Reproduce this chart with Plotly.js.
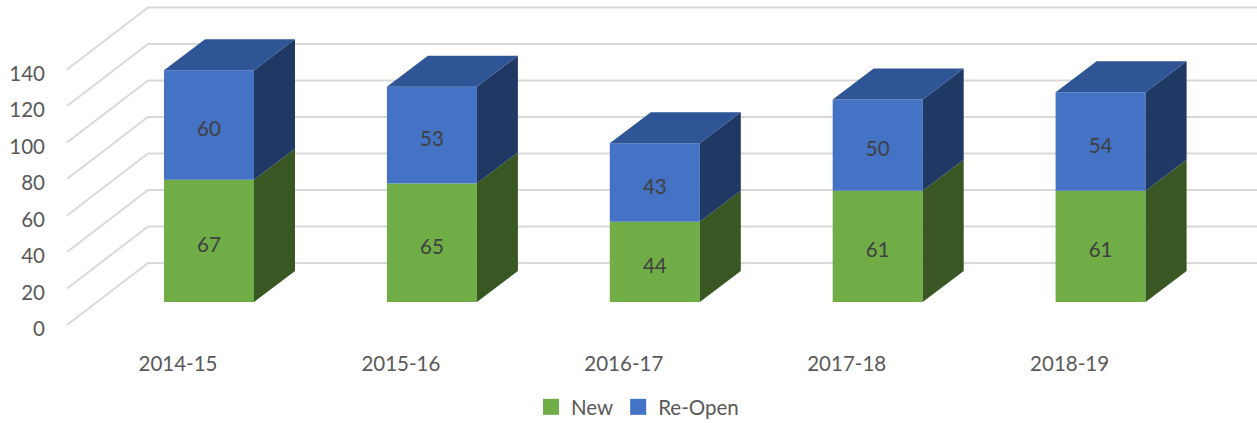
<!DOCTYPE html>
<html>
<head>
<meta charset="utf-8">
<script src="https://cdn.plot.ly/plotly-3.0.1.min.js"></script>
<style>html,body{margin:0;padding:0;background:#fff;overflow:hidden}</style>
</head>
<body>
<div id="chart" style="width:1257px;height:423px"></div>
<script>
const categories = ['2014-15','2015-16','2016-17','2017-18','2018-19'];
const newCases = [67,65,44,61,61];
const reopenCases = [60,53,43,50,54];
const yTicks = [0,20,40,60,80,100,120,140];

const W = 1257, H = 423, left = 46, bottom = 74;
const unitX = 222.9, unitY = 1.825, zeroX = 178, zeroY = 329;
const xRange = [(left - zeroX) / unitX, (W - zeroX) / unitX];
const yRange = [(zeroY - (H - bottom)) / unitY, zeroY / unitY];

// oblique projection, in axis units
const wallX0 = (67 - zeroX) / unitX, wallDX = 81 / unitX, wallLift = 4 / unitY, wallDY = 62 / unitY;
const barShift = 31 / unitX, barWidth = 90 / unitX, barDX = 41 / unitX, barDY = 31 / unitY, barLift = 27 / unitY;
const labelDrop = 6 / unitY;

const C = {green:'#70ad47', blue:'#4472c4', greenSide:'#385723', blueSide:'#203864', blueTop:'#2f5597', grid:'#d9d9d9', text:'#595959', label:'#404040'};
const FONT = 'Lato, Carlito, sans-serif';
const SIZE = 20.5;

const xc = categories.map((_, i) => i + barShift);
const baseNew = categories.map(() => barLift);
const baseReopen = newCases.map(v => barLift + v);

function polys(fn) {
  const xs = [], ys = [];
  categories.forEach((_, i) => {
    fn(i).forEach(p => { xs.push(p[0]); ys.push(p[1]); });
    xs.push(null); ys.push(null);
  });
  return {x: xs, y: ys};
}
function faceTrace(pts, color) {
  return {type:'scatter', mode:'lines', x:pts.x, y:pts.y, xaxis:'x2', yaxis:'y2', fill:'toself', fillcolor:color,
          line:{width:0, color:color}, hoverinfo:'skip', showlegend:false};
}
function sideFace(base, vals) {
  return polys(i => {
    const r = xc[i] + barWidth / 2, b = base[i], t = b + vals[i];
    return [[r,b],[r+barDX,b+barDY],[r+barDX,t+barDY],[r,t],[r,b]];
  });
}
const topFace = polys(i => {
  const l = xc[i] - barWidth / 2, r = xc[i] + barWidth / 2, t = baseReopen[i] + reopenCases[i];
  return [[l,t],[r,t],[r+barDX,t+barDY],[l+barDX,t+barDY],[l,t]];
});

// wall gridlines: floor/side diagonal then along the back wall
const gx = [], gy = [];
yTicks.forEach(v => {
  gx.push(wallX0, wallX0 + wallDX, xRange[1], null);
  gy.push(v + wallLift, v + wallLift + wallDY, v + wallLift + wallDY, null);
});

function barTrace(name, vals, base, color) {
  return {type:'bar', name, x:xc, y:vals, base, width:barWidth, xaxis:'x2', yaxis:'y2',
          marker:{color, line:{width:0}}, hoverinfo:'skip', showlegend:false};
}
function labelTrace(vals, base) {
  return {type:'scatter', mode:'text', x:xc, y:vals.map((v, i) => base[i] + v / 2 - labelDrop), text:vals.map(String),
          textposition:'middle center', textfont:{family:FONT, size:SIZE, color:C.label}, xaxis:'x2', yaxis:'y2',
          hoverinfo:'skip', showlegend:false};
}
function legendTrace(name, color) {
  return {type:'scatter', mode:'markers', name, x:[null], y:[null], marker:{symbol:'square', size:16, color, line:{width:0}}, showlegend:true, hoverinfo:'skip'};
}

const traces = [
  {type:'scatter', mode:'lines', x:gx, y:gy, line:{color:C.grid, width:2}, hoverinfo:'skip', showlegend:false},
  legendTrace('New', C.green),
  legendTrace('Re-Open', C.blue),
  barTrace('New', newCases, baseNew, C.green),
  barTrace('Re-Open', reopenCases, baseReopen, C.blue),
  faceTrace(sideFace(baseNew, newCases), C.greenSide),
  faceTrace(sideFace(baseReopen, reopenCases), C.blueSide),
  faceTrace(topFace, C.blueTop),
  labelTrace(newCases, baseNew),
  labelTrace(reopenCases, baseReopen)
];

const layout = {
  width:W, height:H,
  margin:{l:left, r:0, t:0, b:bottom, pad:0},
  paper_bgcolor:'#fff', plot_bgcolor:'rgba(0,0,0,0)',
  barmode:'overlay',
  font:{family:FONT, size:SIZE, color:C.text},
  xaxis:{range:xRange, tickmode:'array', tickvals:categories.map((_, i) => i), ticktext:categories, automargin:false,
         showgrid:false, zeroline:false, showline:false, ticks:'', tickfont:{family:FONT, size:SIZE, color:C.text}},
  yaxis:{range:yRange, tickmode:'array', tickvals:yTicks, showgrid:false, zeroline:false, showline:false, ticks:'', automargin:false,
         tickfont:{family:FONT, size:SIZE, color:C.text}},
  xaxis2:{range:xRange, overlaying:'x', visible:false},
  yaxis2:{range:yRange, overlaying:'y', visible:false},
  legend:{orientation:'h', xref:'container', yref:'container', x:531 / W, y:1 - 407 / H, xanchor:'left', yanchor:'middle',
          font:{family:FONT, size:SIZE, color:C.text}, itemsizing:'trace', bgcolor:'rgba(0,0,0,0)'},
  showlegend:true
};
Plotly.newPlot('chart', traces, layout, {displayModeBar:false, staticPlot:true});
</script>
</body>
</html>
